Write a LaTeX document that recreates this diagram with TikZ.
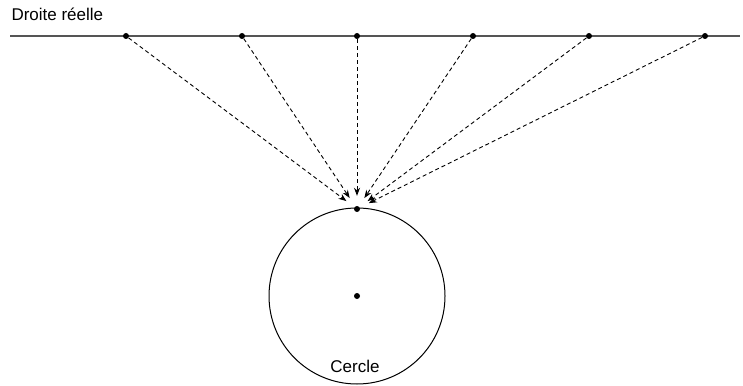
\documentclass[tikz,border=0pt]{standalone}
\usepackage{fontspec}
\setmainfont{Liberation Sans}
\usetikzlibrary{arrows.meta,positioning}
\definecolor{LineGray}{HTML}{555555}

\begin{document}
\begin{tikzpicture}[x=1pt,y=-1pt,
    dot/.style={circle,fill=black,inner sep=0pt,minimum size=6pt},
    proj/.style={dashed,dash pattern=on 4pt off 3pt,line width=0.9pt,
      -{Stealth[length=8pt,width=6pt]},shorten >=10pt},
    lbl/.style={font=\fontsize{17}{20}\selectfont}]
  \useasboundingbox (0,0) rectangle (743,385);
  % droite
  \coordinate (dL) at (10,36);
  \coordinate (dR) at (740,36);
  \draw[LineGray,line width=1.2pt] (dL) -- (dR);
  \node[lbl,anchor=west] (titre) at (8,14) {Droite réelle};
  % cercle
  \node[draw,circle,line width=1pt,minimum size=176pt,inner sep=0pt] (cercle) at (357,296) {};
  \node[dot] (centre) at (357,296) {};
  \node[dot] (haut) at (357,209) {};
  \node[lbl] (nom) at (355,366) {Cercle};
  % points et projections
  \foreach \i/\x in {1/126,2/242,3/357,4/473,5/589,6/705}{
    \node[dot] (p\i) at (\x,36) {};
    \draw[proj] (p\i) -- (haut);
  }
\end{tikzpicture}
\end{document}
